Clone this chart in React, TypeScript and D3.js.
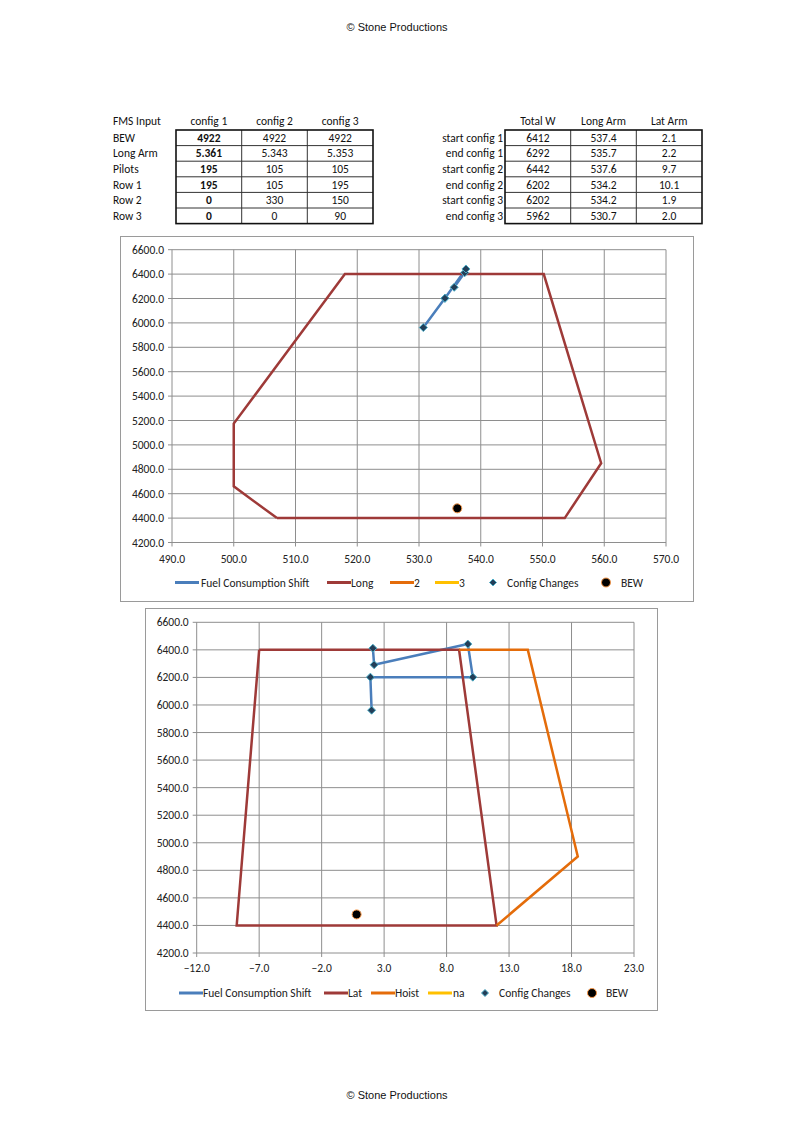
import React from 'react';
import * as d3 from 'd3';

// ---------- DATA ----------
const fmsHeaders = ['config 1', 'config 2', 'config 3'];
const fmsRowLabels = ['BEW', 'Long Arm', 'Pilots', 'Row 1', 'Row 2', 'Row 3'];
const fmsConfig1 = ['4922', '5.361', '195', '195', '0', '0'];
const fmsConfig2 = ['4922', '5.343', '105', '105', '330', '0'];
const fmsConfig3 = ['4922', '5.353', '105', '195', '150', '90'];

const shiftHeaders = ['Total W', 'Long Arm', 'Lat Arm'];
const shiftLabels = ['start config 1', 'end config 1', 'start config 2', 'end config 2', 'start config 3', 'end config 3'];
const shiftTotalW = [6412, 6292, 6442, 6202, 6202, 5962];
const shiftLongArm = [537.4, 535.7, 537.6, 534.2, 534.2, 530.7];
const shiftLatArm = [2.1, 2.2, 9.7, 10.1, 1.9, 2.0];

const longEnvX = [507, 553.6, 559.5, 550.2, 518, 500, 500, 507];
const longEnvY = [4400, 4400, 4850, 6400, 6400, 5175, 4660, 4400];

const latEnvX = [-7, 9, 12, -8.8, -7];
const latEnvY = [6400, 6400, 4400, 4400, 6400];

const hoistEnvX = [9, 14.5, 18.5, 12];
const hoistEnvY = [6400, 6400, 4900, 4400];

const bewWeight = 4480;
const bewLong = 536.2;
const bewLat = 0.8;

const longTicks = d3.range(490, 571, 10);
const latTicks = d3.range(-12, 24, 5);
const weightTicks = d3.range(4200, 6601, 200);

const legend1Names = ['Fuel Consumption Shift', 'Long', '2', '3', 'Config Changes', 'BEW'];
const legend2Names = ['Fuel Consumption Shift', 'Lat', 'Hoist', 'na', 'Config Changes', 'BEW'];

// ---------- STYLE ----------
const BLUE = '#4A7EBB';
const RED = '#9E3A38';
const ORANGE = '#E46C0A';
const YELLOW = '#FFC000';
const GRID = '#8E8E8E';
const FONT = "Carlito, Calibri, Lato, 'Open Sans', sans-serif";
const FS = 11.5;
const fmt = d3.format('.1f');

type Series = { xs: number[]; ys: number[]; color: string };

type ChartProps = {
  frame: { x: number; y: number; w: number; h: number };
  xDomain: [number, number];
  xRange: [number, number];
  yRange: [number, number];
  xTicks: number[];
  envelopes: Series[];
  shiftX: number[];
  bewX: number;
  legendNames: string[];
  legendPos: { sx: number; tx: number }[];
  legendY: number;
  legendColors: string[];
  xLabelY: number;
};

function Diamond({ cx, cy, r }: { cx: number; cy: number; r: number }) {
  return (
    <path
      d={`M${cx},${cy - r}L${cx + r},${cy}L${cx},${cy + r}L${cx - r},${cy}Z`}
      fill="#233E58"
      stroke="#4BACC6"
      strokeWidth={1}
    />
  );
}

function Chart(p: ChartProps) {
  const x = d3.scaleLinear().domain(p.xDomain).range(p.xRange);
  const y = d3.scaleLinear().domain([4200, 6600]).range(p.yRange);
  const line = d3
    .line<[number, number]>()
    .x((d) => x(d[0]))
    .y((d) => y(d[1]));
  const shiftPts: [number, number][] = p.shiftX.map((v, i) => [v, shiftTotalW[i]]);
  const [x0, x1] = p.xRange;
  const [yb, yt] = p.yRange;
  return (
    <g>
      <rect x={p.frame.x + 0.5} y={p.frame.y + 0.5} width={p.frame.w} height={p.frame.h} fill="white" stroke="#9A9A9A" strokeWidth={1} />
      {weightTicks.map((t) => (
        <g key={'h' + t}>
          <line x1={x0 - 4} x2={x1} y1={y(t)} y2={y(t)} stroke={GRID} strokeWidth={1} />
          <text x={x0 - 8} y={y(t) + 4} fontSize={FS} fontFamily={FONT} textAnchor="end" fill="#222">
            {fmt(t)}
          </text>
        </g>
      ))}
      {p.xTicks.map((t) => (
        <g key={'v' + t}>
          <line x1={x(t)} x2={x(t)} y1={yt} y2={yb + 4} stroke={GRID} strokeWidth={1} />
          <text x={x(t)} y={p.xLabelY} fontSize={FS} fontFamily={FONT} textAnchor="middle" fill="#222">
            {fmt(t)}
          </text>
        </g>
      ))}
      <path d={line(shiftPts) || ''} fill="none" stroke={BLUE} strokeWidth={2.5} strokeLinejoin="round" />
      {p.envelopes.map((s, i) => (
        <path
          key={'e' + i}
          d={line(s.xs.map((v, j) => [v, s.ys[j]] as [number, number])) || ''}
          fill="none"
          stroke={s.color}
          strokeWidth={2.5}
          strokeLinejoin="miter"
        />
      ))}
      {shiftPts.map((d, i) => (
        <Diamond key={'d' + i} cx={x(d[0])} cy={y(d[1])} r={4} />
      ))}
      <circle cx={x(p.bewX)} cy={y(bewWeight)} r={4.5} fill="black" stroke="#F79646" strokeWidth={1} />
      {p.legendNames.map((name, i) => {
        const pos = p.legendPos[i];
        let mark: React.ReactNode;
        if (i < 4) {
          mark = <line x1={pos.sx} x2={pos.sx + 24} y1={p.legendY} y2={p.legendY} stroke={p.legendColors[i]} strokeWidth={3} />;
        } else if (i === 4) {
          mark = <Diamond cx={pos.sx} cy={p.legendY} r={3.5} />;
        } else {
          mark = <circle cx={pos.sx} cy={p.legendY} r={4.5} fill="black" stroke="#F79646" strokeWidth={1} />;
        }
        return (
          <g key={'l' + i}>
            {mark}
            <text x={pos.tx} y={p.legendY + 4} fontSize={FS} fontFamily={FONT} fill="#222">
              {name}
            </text>
          </g>
        );
      })}
    </g>
  );
}

function Tables() {
  const rowTop = 130;
  const rowH = 15.6;
  const lCols = [176, 241.7, 307.3, 373];
  const rCols = [505, 570.7, 636.3, 702];
  const fmsCols = [fmsConfig1, fmsConfig2, fmsConfig3];
  const shiftCols = [shiftTotalW.map(String), shiftLongArm.map((v) => v.toFixed(1)), shiftLatArm.map((v) => v.toFixed(1))];
  const tableLines = (cols: number[], key: string) => {
    const bottom = rowTop + rowH * 6;
    const els: React.ReactNode[] = [];
    for (let r = 1; r < 6; r++) {
      els.push(<line key={key + 'r' + r} x1={cols[0]} x2={cols[3]} y1={rowTop + r * rowH} y2={rowTop + r * rowH} stroke="#333" strokeWidth={1} />);
    }
    for (let c = 1; c < 3; c++) {
      els.push(<line key={key + 'c' + c} x1={cols[c]} x2={cols[c]} y1={rowTop} y2={bottom} stroke="#333" strokeWidth={1} />);
    }
    els.push(<rect key={key + 'o'} x={cols[0]} y={rowTop} width={cols[3] - cols[0]} height={bottom - rowTop} fill="none" stroke="#111" strokeWidth={1.6} />);
    return els;
  };
  const ts = { fontSize: FS, fontFamily: FONT, fill: '#111' } as const;
  return (
    <g>
      <text x={113} y={125} {...ts}>FMS Input</text>
      {fmsHeaders.map((h, i) => (
        <text key={'fh' + i} x={(lCols[i] + lCols[i + 1]) / 2} y={125} textAnchor="middle" {...ts}>{h}</text>
      ))}
      {fmsRowLabels.map((l, r) => (
        <text key={'fl' + r} x={113} y={rowTop + r * rowH + rowH / 2 + 4} {...ts}>{l}</text>
      ))}
      {fmsCols.map((col, c) =>
        col.map((v, r) => (
          <text key={'fv' + c + r} x={(lCols[c] + lCols[c + 1]) / 2} y={rowTop + r * rowH + rowH / 2 + 4} textAnchor="middle" fontWeight={c === 0 ? 'bold' : 'normal'} {...ts}>{v}</text>
        ))
      )}
      {tableLines(lCols, 'L')}

      {shiftHeaders.map((h, i) => (
        <text key={'sh' + i} x={(rCols[i] + rCols[i + 1]) / 2} y={125} textAnchor="middle" {...ts}>{h}</text>
      ))}
      {shiftLabels.map((l, r) => (
        <text key={'sl' + r} x={503} y={rowTop + r * rowH + rowH / 2 + 4} textAnchor="end" {...ts}>{l}</text>
      ))}
      {shiftCols.map((col, c) =>
        col.map((v, r) => (
          <text key={'sv' + c + r} x={(rCols[c] + rCols[c + 1]) / 2} y={rowTop + r * rowH + rowH / 2 + 4} textAnchor="middle" {...ts}>{v}</text>
        ))
      )}
      {tableLines(rCols, 'R')}
    </g>
  );
}

export default function App() {
  return (
    <svg width={794} height={1123} style={{ position: 'absolute', left: 0, top: 0, background: 'white' }}>
      <rect width={794} height={1123} fill="white" />
      <text x={397} y={31} textAnchor="middle" fontSize={11} fontFamily="'Liberation Sans', Arial, sans-serif" fill="#111">© Stone Productions</text>
      <text x={397} y={1099} textAnchor="middle" fontSize={11} fontFamily="'Liberation Sans', Arial, sans-serif" fill="#111">© Stone Productions</text>
      <Tables />
      <Chart
        frame={{ x: 120, y: 236, w: 573, h: 365 }}
        xDomain={[490, 570]}
        xRange={[172, 666]}
        yRange={[542.5, 249.7]}
        xTicks={longTicks}
        envelopes={[{ xs: longEnvX, ys: longEnvY, color: RED }]}
        shiftX={shiftLongArm}
        bewX={bewLong}
        legendNames={legend1Names}
        legendPos={[
          { sx: 175, tx: 201 },
          { sx: 327, tx: 351 },
          { sx: 390, tx: 414 },
          { sx: 435, tx: 459 },
          { sx: 493, tx: 507 },
          { sx: 606, tx: 621 },
        ]}
        legendY={582.5}
        legendColors={[BLUE, RED, ORANGE, YELLOW]}
        xLabelY={563}
      />
      <Chart
        frame={{ x: 145, y: 608, w: 512, h: 402 }}
        xDomain={[-12, 23]}
        xRange={[196.7, 634]}
        yRange={[953, 622.3]}
        xTicks={latTicks}
        envelopes={[
          { xs: latEnvX, ys: latEnvY, color: RED },
          { xs: hoistEnvX, ys: hoistEnvY, color: ORANGE },
        ]}
        shiftX={shiftLatArm}
        bewX={bewLat}
        legendNames={legend2Names}
        legendPos={[
          { sx: 179, tx: 203 },
          { sx: 324, tx: 348 },
          { sx: 371, tx: 395 },
          { sx: 428, tx: 453 },
          { sx: 485, tx: 499 },
          { sx: 592, tx: 606 },
        ]}
        legendY={993}
        legendColors={[BLUE, RED, ORANGE, YELLOW]}
        xLabelY={972}
      />
    </svg>
  );
}
